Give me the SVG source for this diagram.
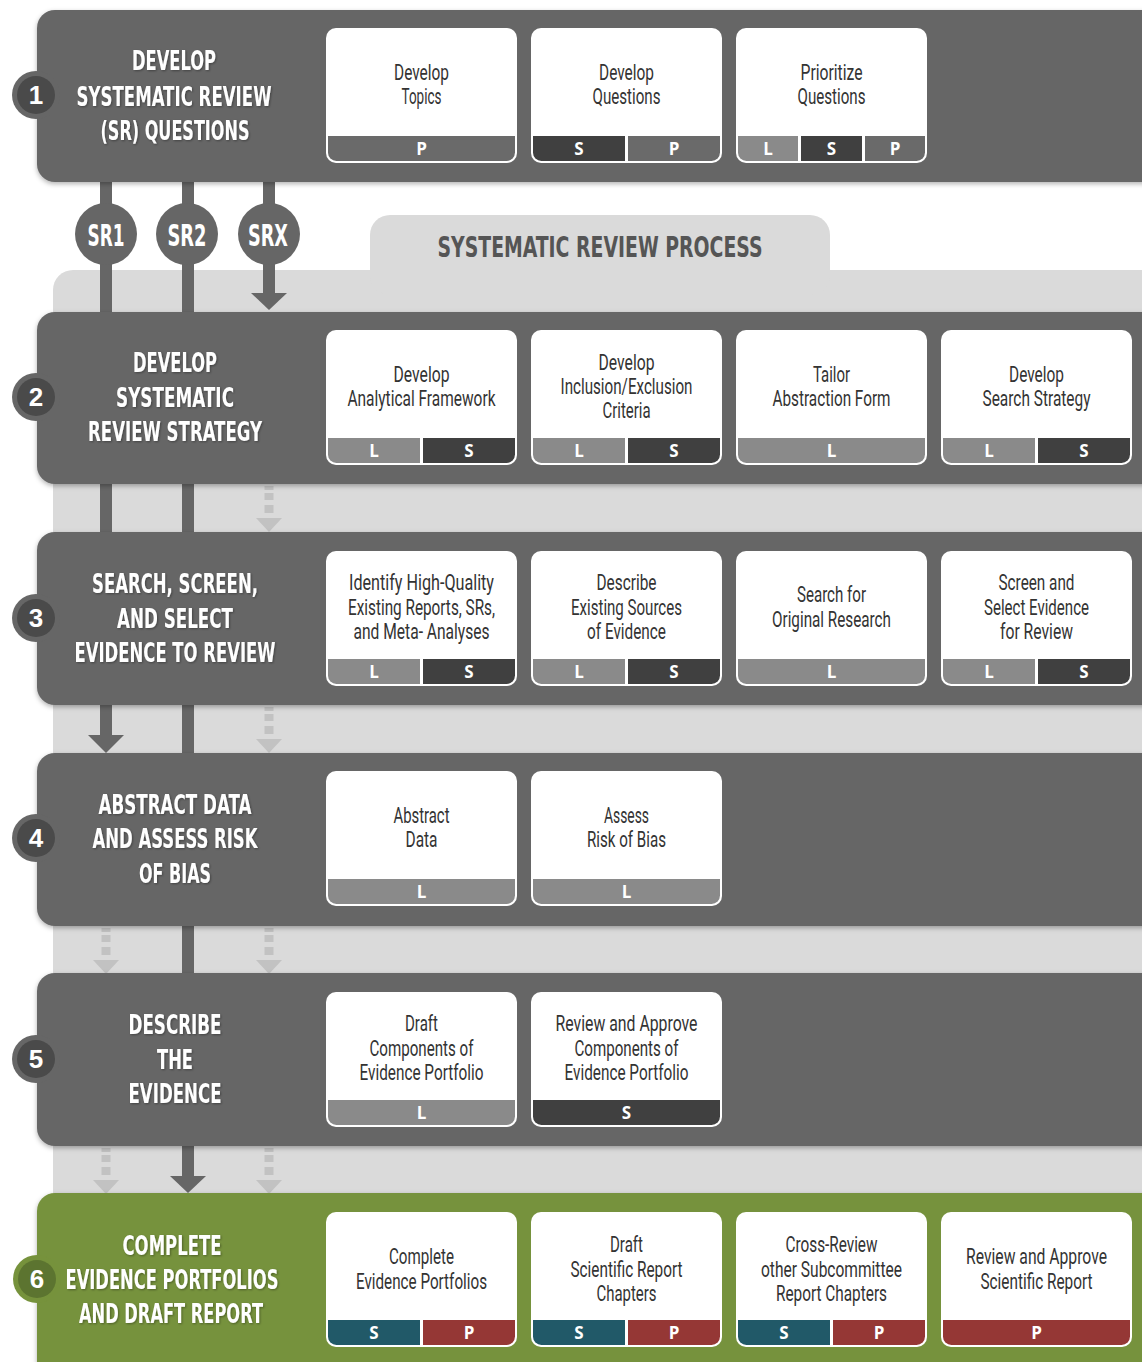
<svg xmlns="http://www.w3.org/2000/svg" width="1142" height="1362" viewBox="0 0 1142 1362">
<style>
.band{fill:#666666}
.band6{fill:#76923c}
.tt{font-family:'DejaVu Sans Condensed','DejaVu Sans',sans-serif;font-stretch:condensed;font-weight:bold;font-size:26px;fill:#ffffff;text-anchor:middle}
.num{font-family:'Liberation Sans',Arial,sans-serif;font-weight:bold;font-size:26px;fill:#ffffff;text-anchor:middle}
.card{fill:#ffffff}
.ct{font-family:Roboto,'DejaVu Sans Condensed',sans-serif;font-weight:400;font-size:22px;fill:#333333;text-anchor:middle}
.fl{font-family:'Open Sans','Liberation Sans',sans-serif;font-weight:bold;font-size:17px;fill:#ffffff;text-anchor:middle}
.L{fill:#8a8a8a}
.S{fill:#404040}
.P{fill:#6a6a6a}
.St{fill:#215968}
.Pr{fill:#953735}
.bar{fill:#666666}
.dash{fill:#c2c2c2}
.srt{font-family:'DejaVu Sans Condensed','DejaVu Sans',sans-serif;font-stretch:condensed;font-weight:bold;font-size:31px;fill:#ffffff;text-anchor:middle}
</style>
<defs>
<clipPath id="fc" clipPathUnits="objectBoundingBox"><rect x="0" y="-1" width="1" height="2" rx="0.045" ry="0.34"/></clipPath>
<filter id="sh" x="-5%" y="-10%" width="110%" height="130%"><feDropShadow dx="0" dy="2" stdDeviation="2.5" flood-color="#000" flood-opacity="0.3"/></filter>
<filter id="ts" x="-10%" y="-20%" width="120%" height="150%"><feDropShadow dx="1" dy="1" stdDeviation="1.2" flood-color="#000" flood-opacity="0.35"/></filter>
</defs>
<rect width="1142" height="1362" fill="#ffffff"/>
<g id="background">
<path d="M53,290 A20,20 0 0 1 73,270 H1150 V1200 H53 Z" fill="#dadada"/>
<rect x="370" y="215" width="460" height="80" rx="20" fill="#dadada"/>
<text x="600" y="257" font-family="'DejaVu Sans Condensed','DejaVu Sans',sans-serif" font-stretch="condensed" font-weight="bold" font-size="28" fill="#555555" text-anchor="middle" textLength="325" lengthAdjust="spacingAndGlyphs">SYSTEMATIC REVIEW PROCESS</text>
</g>
<g id="connectors">
<rect class="bar" x="100" y="178" width="12" height="136"/>
<rect class="bar" x="100" y="482" width="12" height="52"/>
<rect class="bar" x="100" y="703" width="12" height="33"/>
<polygon class="bar" points="88,735 124,735 106,753"/>
<rect class="dash" x="101.5" y="928" width="9" height="4"/>
<rect class="dash" x="101.5" y="935" width="9" height="7"/>
<rect class="dash" x="101.5" y="947" width="9" height="8"/>
<polygon class="dash" points="93,960 119,960 106,974"/>
<rect class="dash" x="101.5" y="1148" width="9" height="4"/>
<rect class="dash" x="101.5" y="1155" width="9" height="7"/>
<rect class="dash" x="101.5" y="1167" width="9" height="8"/>
<polygon class="dash" points="93,1180 119,1180 106,1194"/>
<rect class="bar" x="182" y="178" width="12" height="136"/>
<rect class="bar" x="182" y="482" width="12" height="52"/>
<rect class="bar" x="182" y="703" width="12" height="52"/>
<rect class="bar" x="182" y="924" width="12" height="51"/>
<rect class="bar" x="182" y="1144" width="12" height="33"/>
<polygon class="bar" points="170,1176 206,1176 188,1193"/>
<rect class="bar" x="263" y="178" width="12" height="116"/>
<polygon class="bar" points="251,293 287,293 269,310"/>
<rect class="dash" x="264.5" y="486" width="9" height="4"/>
<rect class="dash" x="264.5" y="493" width="9" height="7"/>
<rect class="dash" x="264.5" y="505" width="9" height="8"/>
<polygon class="dash" points="256,518 282,518 269,532"/>
<rect class="dash" x="264.5" y="707" width="9" height="4"/>
<rect class="dash" x="264.5" y="714" width="9" height="7"/>
<rect class="dash" x="264.5" y="726" width="9" height="8"/>
<polygon class="dash" points="256,739 282,739 269,753"/>
<rect class="dash" x="264.5" y="928" width="9" height="4"/>
<rect class="dash" x="264.5" y="935" width="9" height="7"/>
<rect class="dash" x="264.5" y="947" width="9" height="8"/>
<polygon class="dash" points="256,960 282,960 269,974"/>
<rect class="dash" x="264.5" y="1148" width="9" height="4"/>
<rect class="dash" x="264.5" y="1155" width="9" height="7"/>
<rect class="dash" x="264.5" y="1167" width="9" height="8"/>
<polygon class="dash" points="256,1180 282,1180 269,1194"/>
</g>
<g id="sr-labels">
<g id="sr1"><circle cx="106" cy="234" r="31" fill="#666666"/><text class="srt" x="106" y="246" textLength="37" lengthAdjust="spacingAndGlyphs">SR1</text></g>
<g id="sr2"><circle cx="187" cy="234" r="31" fill="#666666"/><text class="srt" x="187" y="246" textLength="39" lengthAdjust="spacingAndGlyphs">SR2</text></g>
<g id="srx"><circle cx="269" cy="234" r="31" fill="#666666"/><text class="srt" x="268" y="246" textLength="40" lengthAdjust="spacingAndGlyphs">SRX</text></g>
</g>

<g id="step1">
<path class="band" filter="url(#sh)" d="M55,10 H1150 V182 H55 A18,18 0 0 1 37,164 V28 A18,18 0 0 1 55,10 Z"/>
<circle cx="36" cy="95" r="24" fill="#666666"/><circle cx="36" cy="95" r="19" fill="#4a4a4a"/>
<text class="num" x="36" y="104">1</text>
<g filter="url(#ts)">
<text class="tt" x="174" y="70" textLength="84" lengthAdjust="spacingAndGlyphs">DEVELOP</text>
<text class="tt" x="174" y="106" textLength="195" lengthAdjust="spacingAndGlyphs">SYSTEMATIC REVIEW</text>
<text class="tt" x="175" y="140" textLength="149" lengthAdjust="spacingAndGlyphs">(SR) QUESTIONS</text>
</g>
<g id="c1a" transform="translate(326,28)"><rect class="card" width="191" height="135" rx="10"/>
<g clip-path="url(#fc)"><rect class="P" x="2" y="108" width="187" height="25"/></g>
<text class="ct" x="95.5" y="52" textLength="55" lengthAdjust="spacingAndGlyphs">Develop</text>
<text class="ct" x="95.5" y="76" textLength="40" lengthAdjust="spacingAndGlyphs">Topics</text>
<text class="fl" x="95.5" y="127">P</text></g>
<g id="c1b" transform="translate(531,28)"><rect class="card" width="191" height="135" rx="10"/>
<g clip-path="url(#fc)"><rect class="S" x="2" y="108" width="92" height="25"/><rect class="P" x="97" y="108" width="92" height="25"/></g>
<text class="ct" x="95.5" y="52" textLength="55" lengthAdjust="spacingAndGlyphs">Develop</text>
<text class="ct" x="95.5" y="76" textLength="68" lengthAdjust="spacingAndGlyphs">Questions</text>
<text class="fl" x="48" y="127">S</text><text class="fl" x="143" y="127">P</text></g>
<g id="c1c" transform="translate(736,28)"><rect class="card" width="191" height="135" rx="10"/>
<g clip-path="url(#fc)"><rect class="L" x="2" y="108" width="60" height="25"/><rect class="S" x="65" y="108" width="61" height="25"/><rect class="P" x="129" y="108" width="60" height="25"/></g>
<text class="ct" x="95.5" y="52" textLength="62" lengthAdjust="spacingAndGlyphs">Prioritize</text>
<text class="ct" x="95.5" y="76" textLength="68" lengthAdjust="spacingAndGlyphs">Questions</text>
<text class="fl" x="32" y="127">L</text><text class="fl" x="95.5" y="127">S</text><text class="fl" x="159" y="127">P</text></g>
</g>

<g id="step2">
<path class="band" filter="url(#sh)" d="M55,312 H1150 V484 H55 A18,18 0 0 1 37,466 V330 A18,18 0 0 1 55,312 Z"/>
<circle cx="36" cy="397" r="24" fill="#666666"/><circle cx="36" cy="397" r="19" fill="#4a4a4a"/>
<text class="num" x="36" y="406">2</text>
<g filter="url(#ts)">
<text class="tt" x="175" y="372" textLength="84" lengthAdjust="spacingAndGlyphs">DEVELOP</text>
<text class="tt" x="175" y="407" textLength="118" lengthAdjust="spacingAndGlyphs">SYSTEMATIC</text>
<text class="tt" x="175" y="441" textLength="174" lengthAdjust="spacingAndGlyphs">REVIEW STRATEGY</text>
</g>
<g id="c2a" transform="translate(326,330)"><rect class="card" width="191" height="135" rx="10"/>
<g clip-path="url(#fc)"><rect class="L" x="2" y="108" width="92" height="25"/><rect class="S" x="97" y="108" width="92" height="25"/></g>
<text class="ct" x="95.5" y="52" textLength="56" lengthAdjust="spacingAndGlyphs">Develop</text>
<text class="ct" x="95.5" y="76" textLength="148" lengthAdjust="spacingAndGlyphs">Analytical Framework</text>
<text class="fl" x="48" y="127">L</text><text class="fl" x="143" y="127">S</text></g>
<g id="c2b" transform="translate(531,330)"><rect class="card" width="191" height="135" rx="10"/>
<g clip-path="url(#fc)"><rect class="L" x="2" y="108" width="92" height="25"/><rect class="S" x="97" y="108" width="92" height="25"/></g>
<text class="ct" x="95.5" y="40" textLength="56" lengthAdjust="spacingAndGlyphs">Develop</text>
<text class="ct" x="95.5" y="64" textLength="132" lengthAdjust="spacingAndGlyphs">Inclusion/Exclusion</text>
<text class="ct" x="95.5" y="88" textLength="48" lengthAdjust="spacingAndGlyphs">Criteria</text>
<text class="fl" x="48" y="127">L</text><text class="fl" x="143" y="127">S</text></g>
<g id="c2c" transform="translate(736,330)"><rect class="card" width="191" height="135" rx="10"/>
<g clip-path="url(#fc)"><rect class="L" x="2" y="108" width="187" height="25"/></g>
<text class="ct" x="95.5" y="52" textLength="37" lengthAdjust="spacingAndGlyphs">Tailor</text>
<text class="ct" x="95.5" y="76" textLength="118" lengthAdjust="spacingAndGlyphs">Abstraction Form</text>
<text class="fl" x="95.5" y="127">L</text></g>
<g id="c2d" transform="translate(941,330)"><rect class="card" width="191" height="135" rx="10"/>
<g clip-path="url(#fc)"><rect class="L" x="2" y="108" width="92" height="25"/><rect class="S" x="97" y="108" width="92" height="25"/></g>
<text class="ct" x="95.5" y="52" textLength="55" lengthAdjust="spacingAndGlyphs">Develop</text>
<text class="ct" x="95.5" y="76" textLength="108" lengthAdjust="spacingAndGlyphs">Search Strategy</text>
<text class="fl" x="48" y="127">L</text><text class="fl" x="143" y="127">S</text></g>
</g>

<g id="step3">
<path class="band" filter="url(#sh)" d="M55,532 H1150 V705 H55 A18,18 0 0 1 37,687 V550 A18,18 0 0 1 55,532 Z"/>
<circle cx="36" cy="618" r="24" fill="#666666"/><circle cx="36" cy="618" r="19" fill="#4a4a4a"/>
<text class="num" x="36" y="627">3</text>
<g filter="url(#ts)">
<text class="tt" x="175" y="593" textLength="166" lengthAdjust="spacingAndGlyphs">SEARCH, SCREEN,</text>
<text class="tt" x="175" y="628" textLength="116" lengthAdjust="spacingAndGlyphs">AND SELECT</text>
<text class="tt" x="175" y="662" textLength="201" lengthAdjust="spacingAndGlyphs">EVIDENCE TO REVIEW</text>
</g>
<g id="c3a" transform="translate(326,551)"><rect class="card" width="191" height="135" rx="10"/>
<g clip-path="url(#fc)"><rect class="L" x="2" y="108" width="92" height="25"/><rect class="S" x="97" y="108" width="92" height="25"/></g>
<text class="ct" x="95.5" y="39" textLength="145" lengthAdjust="spacingAndGlyphs">Identify High-Quality</text>
<text class="ct" x="95.5" y="64" textLength="147" lengthAdjust="spacingAndGlyphs">Existing Reports, SRs,</text>
<text class="ct" x="95.5" y="88" textLength="136" lengthAdjust="spacingAndGlyphs">and Meta- Analyses</text>
<text class="fl" x="48" y="127">L</text><text class="fl" x="143" y="127">S</text></g>
<g id="c3b" transform="translate(531,551)"><rect class="card" width="191" height="135" rx="10"/>
<g clip-path="url(#fc)"><rect class="L" x="2" y="108" width="92" height="25"/><rect class="S" x="97" y="108" width="92" height="25"/></g>
<text class="ct" x="95.5" y="39" textLength="60" lengthAdjust="spacingAndGlyphs">Describe</text>
<text class="ct" x="95.5" y="64" textLength="111" lengthAdjust="spacingAndGlyphs">Existing Sources</text>
<text class="ct" x="95.5" y="88" textLength="79" lengthAdjust="spacingAndGlyphs">of Evidence</text>
<text class="fl" x="48" y="127">L</text><text class="fl" x="143" y="127">S</text></g>
<g id="c3c" transform="translate(736,551)"><rect class="card" width="191" height="135" rx="10"/>
<g clip-path="url(#fc)"><rect class="L" x="2" y="108" width="187" height="25"/></g>
<text class="ct" x="95.5" y="51" textLength="69" lengthAdjust="spacingAndGlyphs">Search for</text>
<text class="ct" x="95.5" y="76" textLength="119" lengthAdjust="spacingAndGlyphs">Original Research</text>
<text class="fl" x="95.5" y="127">L</text></g>
<g id="c3d" transform="translate(941,551)"><rect class="card" width="191" height="135" rx="10"/>
<g clip-path="url(#fc)"><rect class="L" x="2" y="108" width="92" height="25"/><rect class="S" x="97" y="108" width="92" height="25"/></g>
<text class="ct" x="95.5" y="39" textLength="76" lengthAdjust="spacingAndGlyphs">Screen and</text>
<text class="ct" x="95.5" y="64" textLength="105" lengthAdjust="spacingAndGlyphs">Select Evidence</text>
<text class="ct" x="95.5" y="88" textLength="73" lengthAdjust="spacingAndGlyphs">for Review</text>
<text class="fl" x="48" y="127">L</text><text class="fl" x="143" y="127">S</text></g>
</g>

<g id="step4">
<path class="band" filter="url(#sh)" d="M55,753 H1150 V926 H55 A18,18 0 0 1 37,908 V771 A18,18 0 0 1 55,753 Z"/>
<circle cx="36" cy="838" r="24" fill="#666666"/><circle cx="36" cy="838" r="19" fill="#4a4a4a"/>
<text class="num" x="36" y="847">4</text>
<g filter="url(#ts)">
<text class="tt" x="175" y="814" textLength="153" lengthAdjust="spacingAndGlyphs">ABSTRACT DATA</text>
<text class="tt" x="175" y="848" textLength="165" lengthAdjust="spacingAndGlyphs">AND ASSESS RISK</text>
<text class="tt" x="175" y="883" textLength="72" lengthAdjust="spacingAndGlyphs">OF BIAS</text>
</g>
<g id="c4a" transform="translate(326,771)"><rect class="card" width="191" height="135" rx="10"/>
<g clip-path="url(#fc)"><rect class="L" x="2" y="108" width="187" height="25"/></g>
<text class="ct" x="95.5" y="52" textLength="56" lengthAdjust="spacingAndGlyphs">Abstract</text>
<text class="ct" x="95.5" y="76" textLength="32" lengthAdjust="spacingAndGlyphs">Data</text>
<text class="fl" x="95.5" y="127">L</text></g>
<g id="c4b" transform="translate(531,771)"><rect class="card" width="191" height="135" rx="10"/>
<g clip-path="url(#fc)"><rect class="L" x="2" y="108" width="187" height="25"/></g>
<text class="ct" x="95.5" y="52" textLength="45" lengthAdjust="spacingAndGlyphs">Assess</text>
<text class="ct" x="95.5" y="76" textLength="79" lengthAdjust="spacingAndGlyphs">Risk of Bias</text>
<text class="fl" x="95.5" y="127">L</text></g>
</g>

<g id="step5">
<path class="band" filter="url(#sh)" d="M55,973 H1150 V1146 H55 A18,18 0 0 1 37,1128 V991 A18,18 0 0 1 55,973 Z"/>
<circle cx="36" cy="1059" r="24" fill="#666666"/><circle cx="36" cy="1059" r="19" fill="#4a4a4a"/>
<text class="num" x="36" y="1068">5</text>
<g filter="url(#ts)">
<text class="tt" x="175" y="1034" textLength="93" lengthAdjust="spacingAndGlyphs">DESCRIBE</text>
<text class="tt" x="175" y="1069" textLength="36" lengthAdjust="spacingAndGlyphs">THE</text>
<text class="tt" x="175" y="1103" textLength="93" lengthAdjust="spacingAndGlyphs">EVIDENCE</text>
</g>
<g id="c5a" transform="translate(326,992)"><rect class="card" width="191" height="135" rx="10"/>
<g clip-path="url(#fc)"><rect class="L" x="2" y="108" width="187" height="25"/></g>
<text class="ct" x="95.5" y="39" textLength="33" lengthAdjust="spacingAndGlyphs">Draft</text>
<text class="ct" x="95.5" y="64" textLength="104" lengthAdjust="spacingAndGlyphs">Components of</text>
<text class="ct" x="95.5" y="88" textLength="124" lengthAdjust="spacingAndGlyphs">Evidence Portfolio</text>
<text class="fl" x="95.5" y="127">L</text></g>
<g id="c5b" transform="translate(531,992)"><rect class="card" width="191" height="135" rx="10"/>
<g clip-path="url(#fc)"><rect class="S" x="2" y="108" width="187" height="25"/></g>
<text class="ct" x="95.5" y="39" textLength="142" lengthAdjust="spacingAndGlyphs">Review and Approve</text>
<text class="ct" x="95.5" y="64" textLength="104" lengthAdjust="spacingAndGlyphs">Components of</text>
<text class="ct" x="95.5" y="88" textLength="124" lengthAdjust="spacingAndGlyphs">Evidence Portfolio</text>
<text class="fl" x="95.5" y="127">S</text></g>
</g>

<g id="step6">
<path class="band6" filter="url(#sh)" d="M55,1193 H1150 V1380 H55 A18,18 0 0 1 37,1362 V1211 A18,18 0 0 1 55,1193 Z"/>
<circle cx="37" cy="1279" r="24" fill="#76923c"/><circle cx="37" cy="1279" r="19" fill="#5c7430"/>
<text class="num" x="37" y="1288">6</text>
<g filter="url(#ts)">
<text class="tt" x="172" y="1255" textLength="99" lengthAdjust="spacingAndGlyphs">COMPLETE</text>
<text class="tt" x="172" y="1289" textLength="213" lengthAdjust="spacingAndGlyphs">EVIDENCE PORTFOLIOS</text>
<text class="tt" x="171" y="1323" textLength="184" lengthAdjust="spacingAndGlyphs">AND DRAFT REPORT</text>
</g>
<g id="c6a" transform="translate(326,1212)"><rect class="card" width="191" height="135" rx="10"/>
<g clip-path="url(#fc)"><rect class="St" x="2" y="108" width="92" height="25"/><rect class="Pr" x="97" y="108" width="92" height="25"/></g>
<text class="ct" x="95.5" y="52" textLength="65" lengthAdjust="spacingAndGlyphs">Complete</text>
<text class="ct" x="95.5" y="77" textLength="131" lengthAdjust="spacingAndGlyphs">Evidence Portfolios</text>
<text class="fl" x="48" y="127">S</text><text class="fl" x="143" y="127">P</text></g>
<g id="c6b" transform="translate(531,1212)"><rect class="card" width="191" height="135" rx="10"/>
<g clip-path="url(#fc)"><rect class="St" x="2" y="108" width="92" height="25"/><rect class="Pr" x="97" y="108" width="92" height="25"/></g>
<text class="ct" x="95.5" y="40" textLength="33" lengthAdjust="spacingAndGlyphs">Draft</text>
<text class="ct" x="95.5" y="65" textLength="112" lengthAdjust="spacingAndGlyphs">Scientific Report</text>
<text class="ct" x="95.5" y="89" textLength="60" lengthAdjust="spacingAndGlyphs">Chapters</text>
<text class="fl" x="48" y="127">S</text><text class="fl" x="143" y="127">P</text></g>
<g id="c6c" transform="translate(736,1212)"><rect class="card" width="191" height="135" rx="10"/>
<g clip-path="url(#fc)"><rect class="St" x="2" y="108" width="92" height="25"/><rect class="Pr" x="97" y="108" width="92" height="25"/></g>
<text class="ct" x="95.5" y="40" textLength="92" lengthAdjust="spacingAndGlyphs">Cross-Review</text>
<text class="ct" x="95.5" y="65" textLength="141" lengthAdjust="spacingAndGlyphs">other Subcommittee</text>
<text class="ct" x="95.5" y="89" textLength="111" lengthAdjust="spacingAndGlyphs">Report Chapters</text>
<text class="fl" x="48" y="127">S</text><text class="fl" x="143" y="127">P</text></g>
<g id="c6d" transform="translate(941,1212)"><rect class="card" width="191" height="135" rx="10"/>
<g clip-path="url(#fc)"><rect class="Pr" x="2" y="108" width="187" height="25"/></g>
<text class="ct" x="95.5" y="52" textLength="141" lengthAdjust="spacingAndGlyphs">Review and Approve</text>
<text class="ct" x="95.5" y="77" textLength="112" lengthAdjust="spacingAndGlyphs">Scientific Report</text>
<text class="fl" x="95.5" y="127">P</text></g>
</g>
</svg>
